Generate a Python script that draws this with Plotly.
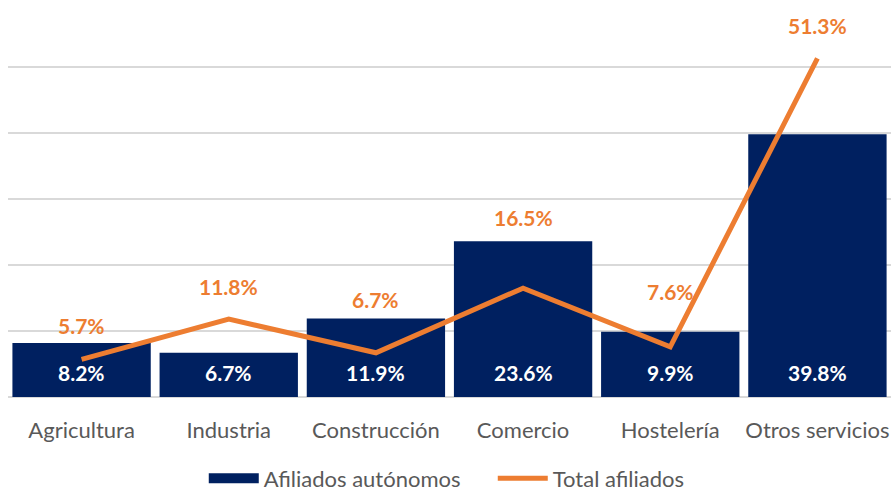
import plotly.graph_objects as go

sectores = ['Agricultura', 'Industria', 'Construcción', 'Comercio', 'Hostelería', 'Otros servicios']
afiliados_autonomos = [8.2, 6.7, 11.9, 23.6, 9.9, 39.8]
total_afiliados = [5.7, 11.8, 6.7, 16.5, 7.6, 51.3]

NAVY = '#002060'
ORANGE = '#ED7D31'
FONT = 'Lato, Open Sans, sans-serif'

# pixel offset of each orange label above its point (as in the original)
label_shift = [34, 33, 53, 71, 55, 33]

fig = go.Figure()

fig.add_trace(go.Bar(
    x=sectores, y=afiliados_autonomos, name='Afiliados autónomos',
    marker=dict(color=NAVY, line=dict(width=0)),
    showlegend=False, hoverinfo='skip',
))

fig.add_trace(go.Scatter(
    x=sectores, y=total_afiliados, name='Total afiliados',
    mode='lines', line=dict(color=ORANGE, width=5), showlegend=False,
))

# legend entries (wide navy block, orange line)
fig.add_trace(go.Scatter(x=[None], y=[None], mode='lines', name='Afiliados autónomos',
                         line=dict(color=NAVY, width=16)))
fig.add_trace(go.Scatter(x=[None], y=[None], mode='lines', name='Total afiliados',
                         line=dict(color=ORANGE, width=5)))

for s, v in zip(sectores, afiliados_autonomos):
    fig.add_annotation(x=s, y=0, text=f'<b>{v:.1f}%</b>', showarrow=False,
                       yanchor='bottom', yshift=10,
                       font=dict(color='white', size=21, family=FONT))

for s, v, sh in zip(sectores, total_afiliados, label_shift):
    fig.add_annotation(x=s, y=v, text=f'<b>{v:.1f}%</b>', showarrow=False,
                       yshift=sh, font=dict(color=ORANGE, size=21, family=FONT))

fig.update_layout(
    width=891, height=491,
    margin=dict(l=8, r=0, t=0, b=94, autoexpand=False),
    plot_bgcolor='white', paper_bgcolor='white',
    bargap=0.06,
    font=dict(family=FONT, color='#595959', size=22),
    legend=dict(orientation='h', x=0.549, xanchor='center', y=-0.205, yanchor='middle',
                font=dict(size=22, color='#595959'), tracegroupgap=0,
                entrywidth=224, itemwidth=50),
)
fig.update_xaxes(showline=False, ticks='', automargin=False, ticklabelstandoff=18,
                 tickfont=dict(size=22, color='#595959'))
fig.update_yaxes(range=[0, 60.15], dtick=10, showticklabels=False, showgrid=True,
                 gridcolor='#D9D9D9', gridwidth=2, zeroline=True, zerolinecolor='#D9D9D9',
                 zerolinewidth=2, automargin=False)

# drop the browser's default body margin so the figure sits at the page corner
fig.write_html('out.html', config={'displayModeBar': False},
               post_script="document.body.style.margin='0';")
